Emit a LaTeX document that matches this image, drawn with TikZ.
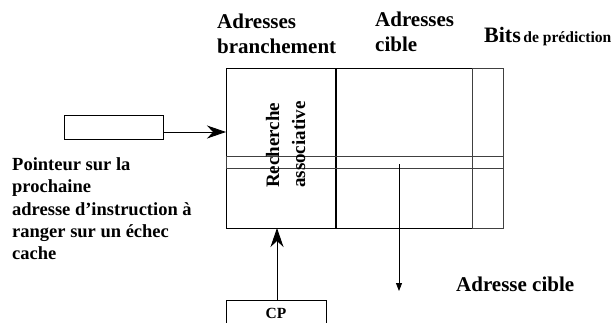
\documentclass[tikz,border=0pt]{standalone}
\usepackage{fontspec}
\setmainfont{Liberation Serif}
\usetikzlibrary{arrows.meta}
\begin{document}
\begin{tikzpicture}[x=1pt,y=-1pt,
  lbl/.style={anchor=base west, inner sep=0pt, align=left},
  boxnode/.style={draw, line width=0.9pt, inner sep=0pt},
  bigarrow/.style={line width=0.9pt, -{Stealth[length=19pt,width=13pt,inset=6pt]}},
  smallarrow/.style={line width=0.8pt, -{Triangle[length=8pt,width=6pt]}}]
\useasboundingbox (0,0) rectangle (615,322);
% table
\draw[line width=1pt] (226,68) rectangle (472,228);
\draw[line width=0.8pt, black!75] (472,68) rectangle (503,228);
\draw[line width=1.7pt] (336,68) -- (336,228);
\draw[line width=0.9pt, black!75] (226,156) rectangle (503,168);
\coordinate (entry) at (226,132);
\coordinate (tbot) at (277,228);
\coordinate (rowsrc) at (399,164);
\coordinate (rowdst) at (399,291);
% headers
\node[lbl, font=\fontsize{21}{25}\selectfont\bfseries] (h1) at (217,53.3) {Adresses\\branchement};
\node[lbl, font=\fontsize{21}{25}\selectfont\bfseries] (h2) at (375,51.7) {Adresses\\cible};
\node[lbl, font=\bfseries] (h3) at (484,42) {{\fontsize{22}{26}\selectfont Bits} {\fontsize{15.6}{18}\selectfont de prédiction}};
% rotated text
\node[lbl, rotate=90, font=\fontsize{19}{26}\selectfont\bfseries] (rech) at (305,188) {Recherche\\associative};
% pointer box
\node[boxnode, minimum width=99pt, minimum height=23.6pt] (ptr) at (113.5,127.5) {};
\draw[bigarrow] (ptr.east |- entry) -- (entry);
\node[lbl, font=\fontsize{18.5}{22.2}\selectfont\bfseries] (ptrtxt) at (12,259.5) {Pointeur sur la\\prochaine\\adresse d’instruction à\\ranger sur un échec\\cache};
% CP
\node[boxnode, minimum width=100pt, minimum height=26pt, anchor=north, font=\fontsize{15.5}{18}\selectfont\bfseries] (cp) at (276,300) {CP};
\draw[bigarrow] (cp.north -| tbot) -- (tbot);
% target
\draw[smallarrow] (rowsrc) -- (rowdst);
\node[lbl, font=\fontsize{21}{25}\selectfont\bfseries] (tgt) at (456,291.7) {Adresse cible};
\end{tikzpicture}
\end{document}
